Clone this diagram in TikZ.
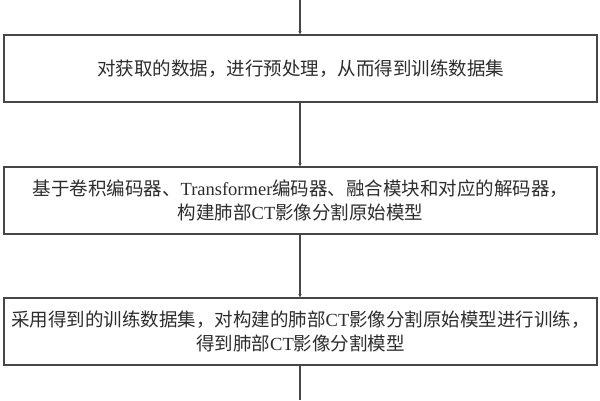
\documentclass[tikz,border=0pt]{standalone}
\usepackage{fontspec}
\setmainfont{Noto Sans CJK SC}
\newfontfamily\latf{Liberation Serif}
\usetikzlibrary{arrows.meta}
\definecolor{edgec}{RGB}{70,70,70}
\definecolor{textc}{RGB}{45,45,45}
\begin{document}
\begin{tikzpicture}[x=1pt,y=-1pt,
  stepbox/.style={draw=edgec, line width=1.5pt, fill=white, minimum width=593pt, minimum height=67pt,
    align=center, inner sep=0pt, text=textc, font=\fontsize{18.5}{23.5}\selectfont},
  flow/.style={draw=edgec, line width=1.4pt, -{Stealth[length=3pt,width=3pt]}},
  plain/.style={draw=edgec, line width=1.4pt}]
\useasboundingbox[fill=white] (0,0) rectangle (600,400);
\coordinate (top) at (300,0);
\coordinate (bot) at (300,400);
\node[stepbox] (b1) at (300.5,68.5) {对获取的数据，进行预处理，从而得到训练数据集};
\node[stepbox] (b2) at (300.5,200.5) {基于卷积编码器、{\latf Transformer}编码器、融合模块和对应的解码器，\\构建肺部{\latf CT}影像分割原始模型};
\node[stepbox] (b3) at (300.5,331.5) {采用得到的训练数据集，对构建的肺部{\latf CT}影像分割原始模型进行训练，\\得到肺部{\latf CT}影像分割模型};
\draw[flow] (top) -- (top |- b1.north);
\draw[flow] (top |- b1.south) -- (top |- b2.north);
\draw[flow] (top |- b2.south) -- (top |- b3.north);
\draw[plain] (top |- b3.south) -- (bot);
\end{tikzpicture}
\end{document}
